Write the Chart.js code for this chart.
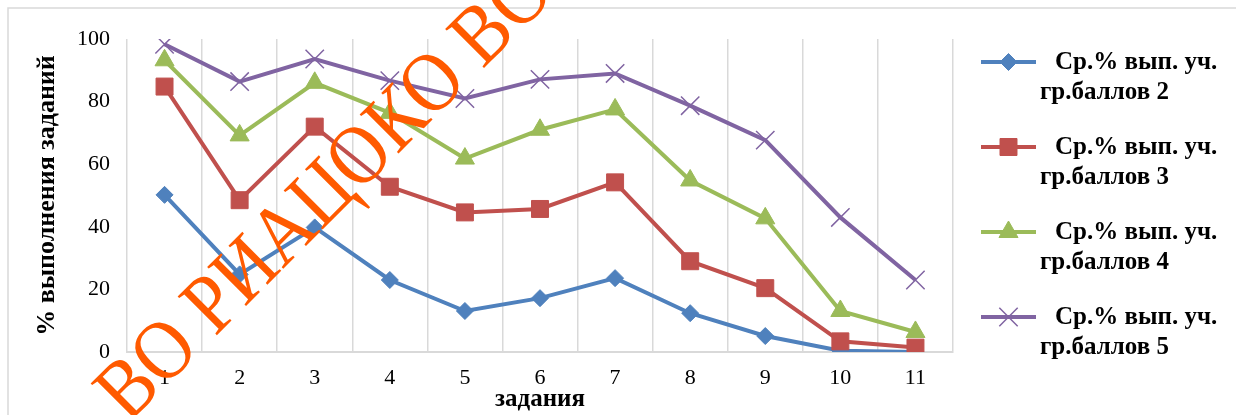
<!DOCTYPE html>
<html>
<head>
<meta charset="utf-8">
<script src="https://cdn.jsdelivr.net/npm/chart.js@4.4.1/dist/chart.umd.min.js"></script>
<style>
  html, body { margin: 0; padding: 0; background: #fff; }
</style>
</head>
<body>
<canvas id="tasks-chart" width="1236" height="415"></canvas>
<script>
const tasks = ['1', '2', '3', '4', '5', '6', '7', '8', '9', '10', '11'];

const group2 = [50.2, 24.8, 39.8, 23.0, 13.1, 17.2, 23.6, 12.4, 5.1, 0.4, 0.0];
const group3 = [84.8, 48.5, 72.0, 52.8, 44.6, 45.7, 54.2, 29.0, 20.4, 3.4, 1.4];
const group4 = [93.2, 69.2, 86.0, 76.4, 61.8, 71.0, 77.5, 54.8, 42.7, 13.1, 6.4];
const group5 = [98.3, 86.4, 93.6, 86.7, 81.0, 87.1, 89.0, 78.7, 67.7, 43.0, 23.0];

const seriesLabels = [
    ['Ср.% вып. уч.', 'гр.баллов 2'],
    ['Ср.% вып. уч.', 'гр.баллов 3'],
    ['Ср.% вып. уч.', 'гр.баллов 4'],
    ['Ср.% вып. уч.', 'гр.баллов 5']
];

const yTicks = [0, 20, 40, 60, 80, 100];
const watermark = 'ВО РИАЦОКО ВО';

const serif = '"Liberation Serif", "Times New Roman", serif';

const makeSet = (label, data, color, style, radius, order) => ({
    label: label.join(' '),
    lines: label,
    data: data,
    borderColor: color,
    backgroundColor: color,
    pointBackgroundColor: color,
    pointBorderColor: color,
    pointStyle: style,
    pointRadius: radius,
    pointHoverRadius: radius,
    pointBorderWidth: style === 'crossRot' ? 1.5 : 1,
    borderWidth: 4,
    tension: 0,
    fill: false,
    order: order
});

// frame round the whole chart
const framePlugin = {
    id: 'frame',
    beforeDraw(chart) {
        const ctx = chart.ctx;
        ctx.save();
        ctx.fillStyle = '#fff';
        ctx.fillRect(0, 0, chart.width, chart.height);
        ctx.strokeStyle = '#d9d9d9';
        ctx.lineWidth = 1.5;
        ctx.strokeRect(8, 8, chart.width + 50, chart.height + 50);
        ctx.restore();
    }
};

// two-line legend on the right
const sideLegend = {
    id: 'sideLegend',
    afterDraw(chart) {
        const ctx = chart.ctx;
        ctx.save();
        chart.data.datasets.forEach((ds, i) => {
            const y = 62 + i * 85;
            ctx.strokeStyle = ds.borderColor;
            ctx.lineWidth = 4;
            ctx.beginPath();
            ctx.moveTo(981, y);
            ctx.lineTo(1036, y);
            ctx.stroke();
            ctx.fillStyle = ds.borderColor;
            ctx.lineWidth = ds.pointBorderWidth;
            Chart.helpers.drawPoint(ctx, {
                pointStyle: ds.pointStyle,
                radius: ds.pointRadius,
                rotation: 0,
                borderWidth: ds.pointBorderWidth
            }, 1008.5, y);
            ctx.fillStyle = '#000';
            ctx.font = 'bold 25px ' + serif;
            ctx.textBaseline = 'middle';
            ctx.textAlign = 'left';
            ctx.fillText(ds.lines[0], 1055, y + 1);
            ctx.fillText(ds.lines[1], 1040, y + 31);
        });
        ctx.restore();
    }
};

const watermarkPlugin = {
    id: 'watermark',
    afterDraw(chart) {
        const ctx = chart.ctx;
        ctx.save();
        ctx.translate(128, 424);
        ctx.rotate(-Math.PI / 4);
        ctx.scale(1, 1.12);
        ctx.fillStyle = '#ff5a00';
        ctx.font = '75px ' + serif;
        ctx.textBaseline = 'alphabetic';
        ctx.fillText(watermark, 0, 0);
        ctx.restore();
    }
};

new Chart(document.getElementById('tasks-chart'), {
    type: 'line',
    data: {
        labels: tasks,
        datasets: [
            makeSet(seriesLabels[0], group2, '#4f81bd', 'rectRot', 8.5, 4),
            makeSet(seriesLabels[1], group3, '#c0504d', 'rect', 12, 3),
            makeSet(seriesLabels[2], group4, '#9bbb59', 'triangle', 11, 2),
            makeSet(seriesLabels[3], group5, '#8064a2', 'crossRot', 13, 1)
        ]
    },
    options: {
        responsive: false,
        animation: false,
        layout: { padding: { top: 39, right: 283, bottom: 0, left: 0 } },
        plugins: {
            legend: { display: false },
            tooltip: { enabled: false }
        },
        scales: {
            x: {
                offset: true,
                grid: { offset: true, color: '#d9d9d9', lineWidth: 1.5, drawTicks: false },
                border: { color: '#d9d9d9', width: 2 },
                ticks: { padding: 13, color: '#000', font: { family: serif, size: 22 } },
                title: {
                    display: true,
                    text: 'задания',
                    color: '#000',
                    font: { family: serif, size: 25, weight: 'bold' },
                    padding: { top: 0, bottom: 0 }
                },
                afterFit: s => { s.height = 63; }
            },
            y: {
                min: 0,
                max: 100,
                afterBuildTicks: s => { s.ticks = yTicks.map(v => ({ value: v })); },
                grid: { display: false, drawTicks: false },
                border: { display: false },
                ticks: { padding: 17, color: '#000', font: { family: serif, size: 22 } },
                title: {
                    display: true,
                    text: '% выполнения заданий',
                    color: '#000',
                    font: { family: serif, size: 26, weight: 'bold' },
                    padding: { top: 32, bottom: 0 }
                },
                afterFit: s => { s.width = 127; }
            }
        }
    },
    plugins: [framePlugin, sideLegend, watermarkPlugin]
});
</script>
</body>
</html>
